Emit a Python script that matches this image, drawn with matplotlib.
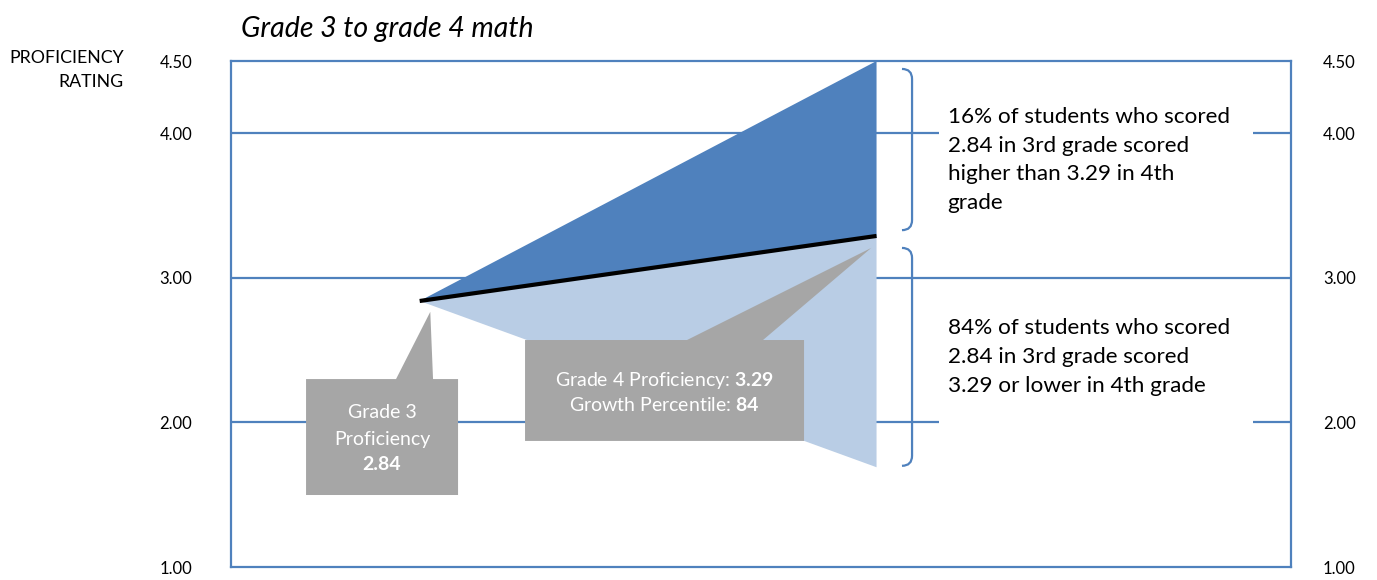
import matplotlib
matplotlib.use("Agg")
import matplotlib.pyplot as plt
from matplotlib.patches import Polygon, Rectangle, PathPatch
from matplotlib.path import Path

plt.rcParams['font.family'] = ['Lato', 'DejaVu Sans']
plt.rcParams['mathtext.fontset'] = 'custom'
plt.rcParams['mathtext.rm'] = 'Lato'
plt.rcParams['mathtext.bf'] = 'Lato:bold'

# ---- data ----
title = "Grade 3 to grade 4 math"
y_label = "PROFICIENCY\nRATING"
y_ticks = [1.00, 2.00, 3.00, 4.00, 4.50]
y_tick_labels = ["1.00", "2.00", "3.00", "4.00", "4.50"]
grade3_score = 2.84
grade4_score = 3.29
range_top = 4.50
range_bottom = 1.69
growth_percentile = 84
pct_higher = 16
pct_lower = 84

# ---- style ----
BLUE = "#4F81BD"
LIGHT = "#B9CDE5"
GRAY = "#A6A6A6"

W, H = 1377, 580
fig = plt.figure(figsize=(W / 100, H / 100), dpi=100)
ax = fig.add_axes([231 / W, 13 / H, 1060 / W, 506 / H])
ax.set_xlim(0, 1)
ax.set_ylim(1.0, 4.5)


def ypx(p):
    """pixel row in the figure -> data y (layout helper for annotations)"""
    return 4.5 - (p - 61) / 144.57


x3, x4 = 0.178, 0.609

for s in ax.spines.values():
    s.set_color(BLUE)
    s.set_linewidth(1.6)
for yv in y_ticks:
    if 1.0 < yv < 4.5:
        ax.axhline(yv, color=BLUE, lw=1.6, zorder=1)

ax.set_xticks([])
ax.set_yticks(y_ticks, y_tick_labels)
ax.tick_params(axis='y', length=0, pad=28, labelsize=12)
ax2 = ax.twinx()
ax2.set_ylim(1.0, 4.5)
ax2.set_yticks(y_ticks, y_tick_labels)
ax2.tick_params(axis='y', length=0, pad=23, labelsize=12)
for s in ax2.spines.values():
    s.set_visible(False)

# triangles
ax.add_patch(Polygon([(x3, grade3_score), (x4, range_top), (x4, grade4_score)],
                     closed=True, facecolor=BLUE, edgecolor='none', zorder=3))
ax.add_patch(Polygon([(x3, grade3_score), (x4, grade4_score), (x4, range_bottom)],
                     closed=True, facecolor=LIGHT, edgecolor='none', zorder=3))
ax.plot([x3, x4], [grade3_score, grade4_score], color='black', lw=3,
        solid_capstyle='butt', zorder=5)

# Grade 3 callout
ax.add_patch(Polygon([(0.0708, 2.30), (0.1557, 2.30), (x3 + 0.010, grade3_score - 0.075),
                      (0.1906, 2.30), (0.2142, 2.30), (0.2142, 1.498), (0.0708, 1.498)],
                     closed=True, facecolor=GRAY, edgecolor='none', zorder=6))
cx3 = (0.0708 + 0.2142) / 2
ax.text(cx3, ypx(412), "Grade 3", color='white', fontsize=14,
        ha='center', va='center', zorder=7)
ax.text(cx3, ypx(439), "Proficiency", color='white', fontsize=14,
        ha='center', va='center', zorder=7)
ax.text(cx3, ypx(464), f"{grade3_score:.2f}", color='white',
        fontsize=14, fontweight='bold', ha='center', va='center', zorder=7)

# Grade 4 callout
ax.add_patch(Polygon([(0.2774, 2.570), (0.4302, 2.570), (x4 - 0.005, grade4_score - 0.083),
                      (0.5019, 2.570), (0.5406, 2.570), (0.5406, 1.872), (0.2774, 1.872)],
                     closed=True, facecolor=GRAY, edgecolor='none', zorder=6))
cx4 = (0.2774 + 0.5406) / 2
ax.text(cx4, ypx(380),
        f"Grade 4 Proficiency: $\\mathbf{{{grade4_score:.2f}}}$",
        color='white', fontsize=14, ha='center', va='center', zorder=7)
ax.text(cx4, ypx(405),
        f"Growth Percentile: $\\mathbf{{{growth_percentile}}}$",
        color='white', fontsize=14, ha='center', va='center', zorder=7)

# white text boxes covering gridlines
ax.add_patch(Rectangle((0.668, 3.45), 0.296, 0.80, facecolor='white',
                       edgecolor='none', zorder=2))
ax.add_patch(Rectangle((0.668, 1.90), 0.296, 0.95, facecolor='white',
                       edgecolor='none', zorder=2))


def bracket(top, bot, x0=0.633, x1=0.6425, r=0.07):
    verts = [(x0, top), (x1, top), (x1, top - r), (x1, bot + r),
             (x1, bot), (x0, bot)]
    codes = [Path.MOVETO, Path.CURVE3, Path.CURVE3, Path.LINETO,
             Path.CURVE3, Path.CURVE3]
    ax.add_patch(PathPatch(Path(verts, codes), facecolor='none',
                           edgecolor=BLUE, lw=1.6, zorder=4))


bracket(range_top - 0.055, grade4_score + 0.04)
bracket(grade4_score - 0.083, range_bottom + 0.01)

ax.text(0.676, ypx(160),
        f"{pct_higher}% of students who scored\n{grade3_score:.2f} in 3rd grade scored\n"
        f"higher than {grade4_score:.2f} in 4th\ngrade",
        fontsize=16.2, ha='left', va='center', linespacing=1.56, zorder=7)
ax.text(0.676, ypx(357),
        f"{pct_lower}% of students who scored\n{grade3_score:.2f} in 3rd grade scored\n"
        f"{grade4_score:.2f} or lower in 4th grade",
        fontsize=16.2, ha='left', va='center', linespacing=1.56, zorder=7)

fig.text(241 / W, 1 - 37 / H, title, fontsize=20.5, style='italic',
         ha='left', va='baseline')
fig.text(124 / W, 1 - 70 / H, y_label, fontsize=12.8, ha='right', va='center',
         multialignment='right', linespacing=1.65)

fig.savefig("out.png", dpi=100)
